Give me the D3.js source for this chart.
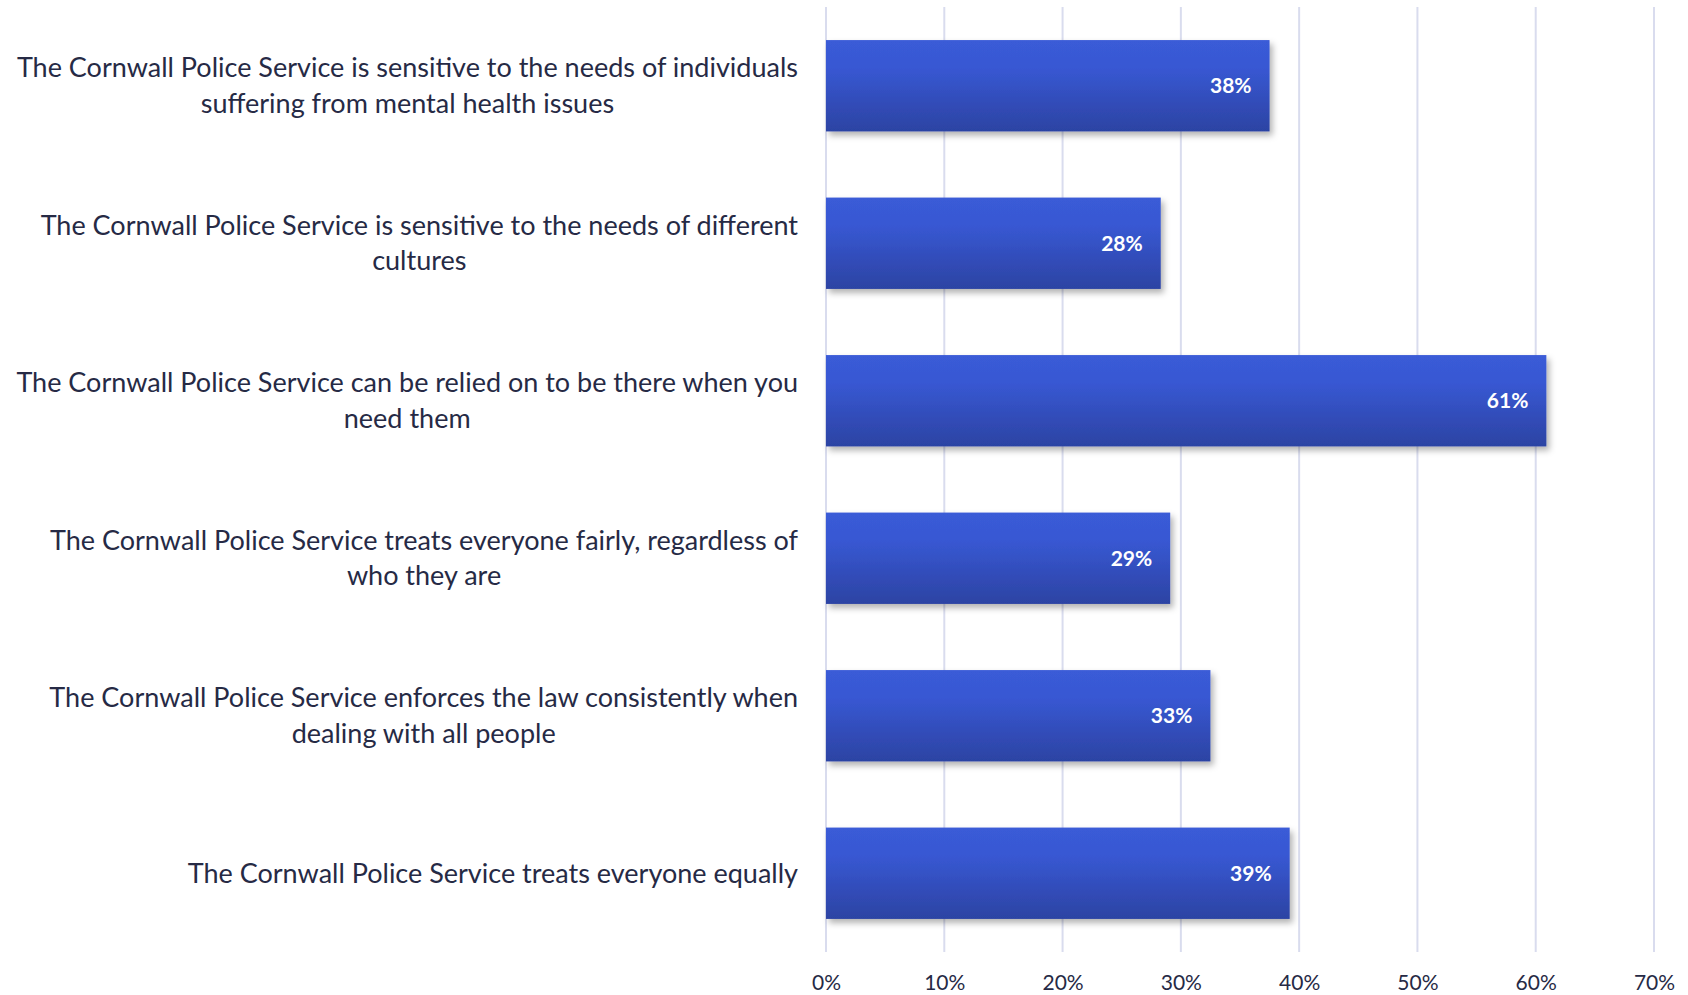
<!DOCTYPE html>
<html><head><meta charset="utf-8">
<script src="https://cdn.jsdelivr.net/npm/d3@7"></script>
<style>body{margin:0;background:#fff;} svg{display:block;}</style>
</head><body>
<svg id="chart" width="1688" height="995"></svg>
<script>
const categories = [
  ["The Cornwall Police Service is sensitive to the needs of individuals", "suffering from mental health issues"],
  ["The Cornwall Police Service is sensitive to the needs of different", "cultures"],
  ["The Cornwall Police Service can be relied on to be there when you", "need them"],
  ["The Cornwall Police Service treats everyone fairly, regardless of", "who they are"],
  ["The Cornwall Police Service enforces the law consistently when", "dealing with all people"],
  ["The Cornwall Police Service treats everyone equally"]
];
const values = [0.375, 0.283, 0.609, 0.291, 0.325, 0.392];
const valueLabels = ["38%", "28%", "61%", "29%", "33%", "39%"];
const ticks = [0, 0.1, 0.2, 0.3, 0.4, 0.5, 0.6, 0.7];

const svg = d3.select("#chart");
const x = d3.scaleLinear().domain([0, 0.7]).range([826, 1654]);
const y = d3.scaleBand().domain(d3.range(categories.length)).range([7, 952]).paddingInner(0.42).paddingOuter(0.21);

const defs = svg.append("defs");
const grad = defs.append("linearGradient").attr("id","barGrad").attr("x1",0).attr("y1",0).attr("x2",0).attr("y2",1);
grad.append("stop").attr("offset","0%").attr("stop-color","#3a5bd7");
grad.append("stop").attr("offset","30%").attr("stop-color","#3858d3");
grad.append("stop").attr("offset","100%").attr("stop-color","#2c43a3");
const f = defs.append("filter").attr("id","shadow").attr("x","-5%").attr("y","-20%").attr("width","115%").attr("height","150%");
f.append("feDropShadow").attr("dx",3).attr("dy",4).attr("stdDeviation",3).attr("flood-color","#000").attr("flood-opacity",0.3);

// gridlines
svg.append("g").selectAll("line").data(ticks).join("line")
  .attr("x1", d => x(d)).attr("x2", d => x(d))
  .attr("y1", 7).attr("y2", 952)
  .attr("stroke", "#d9dcee").attr("stroke-width", 2);

// x axis
const xAxis = d3.axisBottom(x).tickValues(ticks).tickFormat(d3.format(".0%")).tickSize(0).tickPadding(0);
const gx = svg.append("g").attr("transform", "translate(0,952)").call(xAxis);
gx.select(".domain").remove();
gx.selectAll("text").attr("y", 31).attr("dy", "0.35em")
  .attr("font-family", "Lato, 'Open Sans', sans-serif").attr("font-size", 21).attr("fill", "#262a45");

// bars
svg.append("g").selectAll("rect").data(values).join("rect")
  .attr("x", x(0)).attr("y", (d,i) => y(i))
  .attr("width", d => x(d) - x(0)).attr("height", y.bandwidth())
  .attr("fill", "url(#barGrad)").attr("filter", "url(#shadow)");

// value labels
svg.append("g").selectAll("text").data(values).join("text")
  .attr("x", d => x(d) - 18).attr("y", (d,i) => y(i) + y.bandwidth()/2)
  .attr("dy", "0.35em").attr("text-anchor", "end")
  .attr("font-family", "Lato, 'Open Sans', sans-serif").attr("font-weight", "bold")
  .attr("font-size", 21).attr("fill", "#ffffff")
  .text((d,i) => valueLabels[i]);

// category labels
const lineH = 35.5;
const cat = svg.append("g").selectAll("text").data(categories).join("text")
  .attr("text-anchor", "middle")
  .attr("font-family", "Lato, 'Open Sans', sans-serif").attr("font-size", 27).attr("fill", "#262a45");
cat.each(function(lines, i) {
  const t = d3.select(this);
  const cy = y(i) + y.bandwidth()/2;
  const n = lines.length;
  lines.forEach((ln, j) => {
    t.append("tspan").attr("y", cy + (j - (n-1)/2) * lineH).attr("dy", "0.35em").text(ln);
  });
  const widths = [];
  t.selectAll("tspan").each(function(){ widths.push(this.getComputedTextLength()); });
  const maxW = d3.max(widths);
  t.selectAll("tspan").attr("x", 798 - maxW/2);
});
</script>
</body></html>
